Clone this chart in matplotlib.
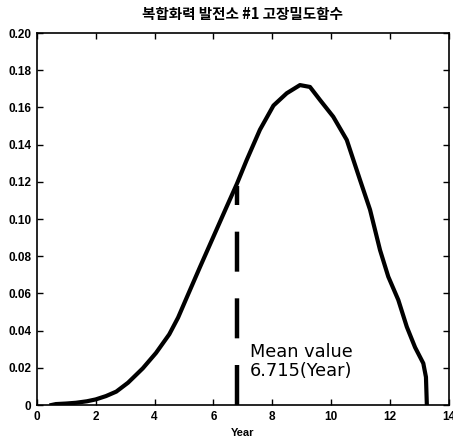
import matplotlib
matplotlib.use("Agg")
import matplotlib.pyplot as plt

years = [0.5, 0.65, 1.0, 1.33, 1.7, 2.0, 2.35, 2.7, 3.1, 3.6, 4.05, 4.5, 4.8,
         5.1, 5.55, 6.0, 6.45, 6.8, 7.13, 7.58, 8.04, 8.49, 8.94, 9.28, 9.62,
         10.07, 10.53, 10.98, 11.32, 11.66, 11.94, 12.28, 12.57, 12.85, 13.13,
         13.22, 13.25]
density = [0.0, 0.0005, 0.0008, 0.0012, 0.002, 0.003, 0.0048, 0.0072, 0.012,
           0.0197, 0.028, 0.038, 0.047, 0.058, 0.0744, 0.0905, 0.1066, 0.119,
           0.1317, 0.148, 0.161, 0.1676, 0.172, 0.171, 0.164, 0.155, 0.1425,
           0.121, 0.105, 0.0833, 0.069, 0.0565, 0.042, 0.031, 0.0224, 0.015, 0.0]
mean_line_x = 6.8
mean_line_top = 0.118
mean_label = "Mean value\n6.715(Year)"
title = "복합화력 발전소 #1 고장밀도함수"
xticks = list(range(0, 15, 2))
yticks = [0, 0.02, 0.04, 0.06, 0.08, 0.10, 0.12, 0.14, 0.16, 0.18, 0.20]
ytick_labels = ["0"] + [f"{v:.2f}" for v in yticks[1:]]

fig = plt.figure(figsize=(4.53, 4.46), dpi=100)
ax = fig.add_axes([0.0812, 0.0919, 0.9098, 0.8341])
ax.plot(years, density, color="black", lw=3.0, solid_joinstyle="round")
ax.plot([mean_line_x, mean_line_x], [0, mean_line_top], color="black", lw=3.2,
        dashes=(9, 6))
ax.text(7.24, 0.0156, mean_label, fontsize=12.8, family="DejaVu Sans",
        ha="left", va="baseline", linespacing=1.1)
ax.set_xlim(0, 14)
ax.set_ylim(0, 0.20)
ax.set_xticks(xticks)
ax.set_xticklabels([str(t) for t in xticks], fontsize=8.5, fontweight="bold",
                   family="Liberation Sans")
ax.set_yticks(yticks)
ax.set_yticklabels(ytick_labels, fontsize=8.5, fontweight="bold",
                   family="Liberation Sans")
ax.tick_params(direction="in", length=4, top=True, right=True, width=1, pad=4)
for s in ax.spines.values():
    s.set_linewidth(1.2)
ax.set_xlabel("Year", fontsize=8, fontweight="bold", family="Liberation Sans",
              labelpad=4)
ax.set_title(title, fontsize=10.5, fontweight="bold",
             family=["Noto Sans CJK KR", "DejaVu Sans"], pad=10)
fig.savefig("out.png", dpi=100)
